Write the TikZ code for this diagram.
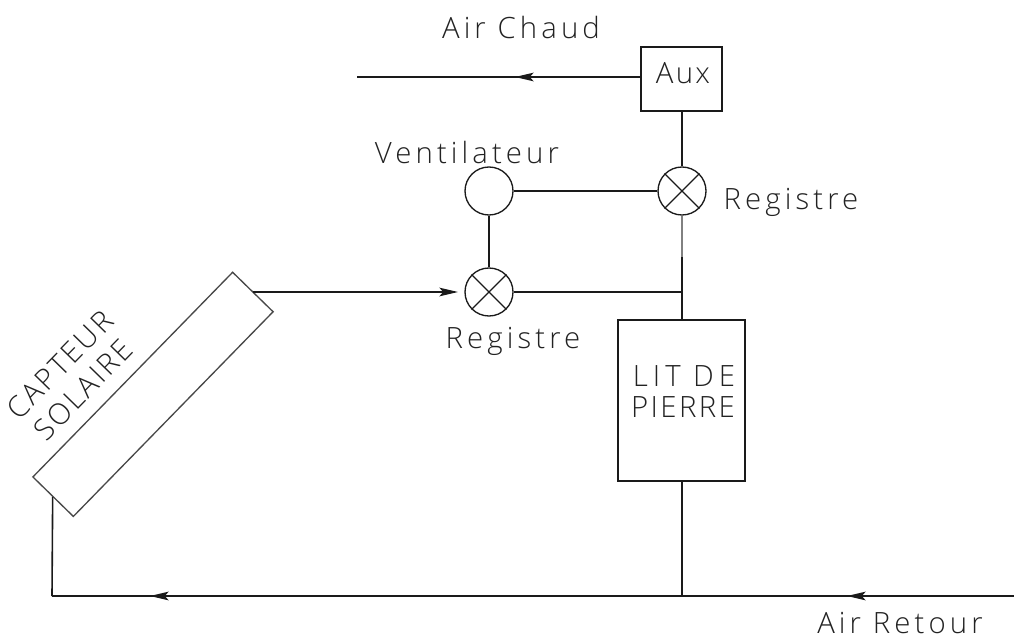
\documentclass[tikz,border=0pt]{standalone}
\usepackage{fontspec}
\setmainfont{Open Sans Light}[LetterSpace=14]
\usetikzlibrary{arrows.meta}
\definecolor{ink}{HTML}{1A1A1A}
\definecolor{txt}{HTML}{222222}
\tikzset{
  pipe/.style={draw=ink,line width=1.2pt},
  fade/.style={draw=ink!55,line width=1.2pt},
  flow/.style={draw=ink,line width=1.2pt,-{Stealth[length=14pt,width=6.5pt,inset=3pt]}},
  disc/.style={circle,draw=ink,line width=1pt,inner sep=0pt,minimum size=36pt},
  lab/.style={text=txt,inner sep=0pt,anchor=base,font=\fontsize{22}{26}\selectfont},
}
\begin{document}
\begin{tikzpicture}[x=.75pt,y=-.75pt]
\useasboundingbox (0,0) rectangle (1014,635);
% units
\node[draw=ink,line width=1.2pt,inner sep=0pt,minimum width=60.75pt,minimum height=48pt] (aux) at (681.5,79) {};
\node[draw=ink,line width=1.2pt,inner sep=0pt,minimum width=95.25pt,minimum height=120.75pt] (lit) at (681.5,400.5) {};
\node[draw=ink!80,line width=1pt,inner sep=0pt,minimum width=214.5pt,minimum height=42.4pt,rotate=45.7] (col) at (153,394.35) {};
\node[disc] (reg1) at (682,191) {};
\node[disc] (fan) at (489,191) {};
\node[disc] (reg2) at (489,292) {};
\draw[ink,line width=.9pt] (reg1.45)--(reg1.225) (reg1.135)--(reg1.315);
\draw[ink,line width=.9pt] (reg2.45)--(reg2.225) (reg2.135)--(reg2.315);
% free ends
\coordinate (hotend) at (357,77);
\coordinate (hottip) at (515,77);
\coordinate (auxw) at (aux.west |- hotend);
\coordinate (coltip) at (458,292);
\coordinate (colstart) at (col.east |- coltip);
\coordinate (fade) at (682,257);
\coordinate (j1) at (682,292);
\coordinate (j2) at (682,596);
\coordinate (corner) at (52,596);
\coordinate (retend) at (1014,596);
\coordinate (rettip) at (847,596);
\coordinate (lefttip) at (150,596);
\coordinate (auxs) at (682,111);
\coordinate (lits) at (682,481);
\coordinate (litn) at (682,320);
% connectors
\draw[pipe] (auxw) -- (hotend);
\draw[flow] (auxw) -- (hottip);
\draw[pipe] (auxs) -- (reg1.north);
\draw[pipe] (fan.east) -- (reg1.west);
\draw[pipe] (fan.south) -- (reg2.north);
\draw[fade] (reg1.south) -- (fade);
\draw[pipe] (fade) -- (litn);
\draw[pipe] (reg2.east) -- (j1);
\draw[flow] (colstart) -- (coltip);
\draw[pipe] (lits) -- (j2);
\draw[pipe] (retend) -- (corner);
\draw[flow] (retend) -- (rettip);
\draw[flow] (retend) -- (lefttip);
\draw[pipe] (corner) -- (col.west);
% labels
\node[lab] (t1) at (521,39) {Air Chaud};
\node[lab] (t2) at (683,84) {\addfontfeature{LetterSpace=8}Aux};
\node[lab] (t3) at (467,163) {Ventilateur};
\node[lab] (t4) at (791,209) {Registre};
\node[lab] (t5) at (513,348) {Registre};
\node[lab] (t6a) at (684,386) {\addfontfeature{LetterSpace=17}LIT DE};
\node[lab] (t6b) at (683,417) {\addfontfeature{LetterSpace=8}PIERRE};
\node[lab] (t7) at (900,633) {Air Retour};
\node[lab,rotate=45.7,anchor=center] (t8a) at (60,365) {\addfontfeature{LetterSpace=8}CAPTEUR};
\node[lab,rotate=45.7,anchor=center] (t8b) at (83,390) {\addfontfeature{LetterSpace=8}SOLAIRE};
\end{tikzpicture}
\end{document}
